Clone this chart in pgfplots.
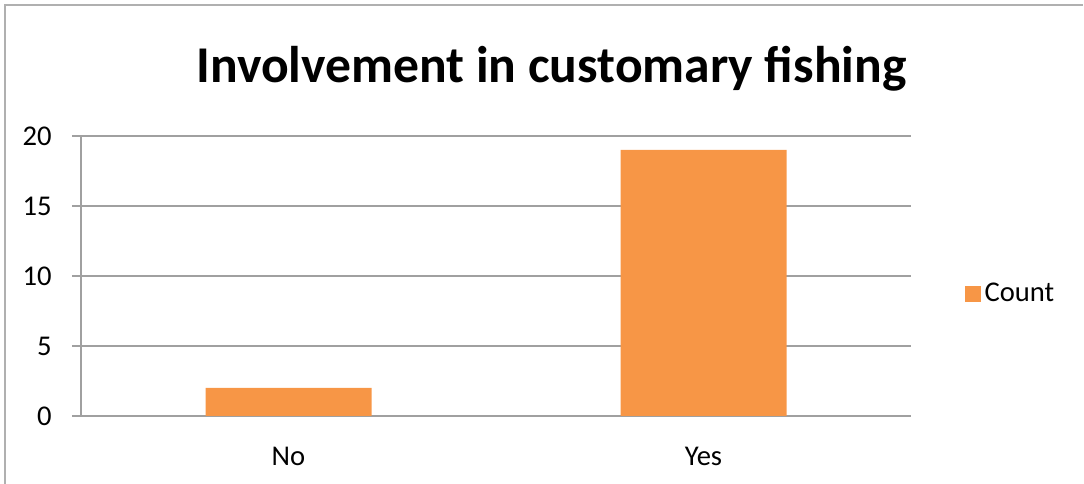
\documentclass[border=0pt]{standalone}
\usepackage{pgfplots}
\pgfplotsset{compat=1.18}
\usepackage{fontspec}
\setmainfont{Carlito}
\definecolor{barorange}{HTML}{F79646}
\definecolor{linegray}{HTML}{A0A0A0}
\definecolor{framegray}{HTML}{B0B0B0}
\begin{document}
\begin{tikzpicture}
\useasboundingbox (0,0) rectangle (542bp,242bp);
\draw[framegray, line width=0.9bp] (2.5bp,0) -- (2.5bp,239.5bp) -- (541.5bp,239.5bp);
\node[anchor=base, inner sep=0, font=\fontsize{25.8bp}{30bp}\selectfont\bfseries] at (275.75bp,200.5bp) {Involvement in customary fishing};
\begin{axis}[
  at={(40.5bp,34bp)}, anchor=south west,
  scale only axis,
  width=415bp, height=140bp,
  xmin=-0.5, xmax=1.5,
  ymin=0, ymax=20,
  ytick={0,5,10,15,20},
  xtick={0,1},
  xticklabels={No,Yes},
  minor xtick={-0.5,0.5,1.5},
  xtick style={draw=none},
  minor tick length=4.5bp,
  major tick length=4.5bp,
  tick align=outside,
  ytick style={linegray, line width=0.7bp},
  minor x tick style={linegray, line width=0.7bp},
  axis x line*=bottom,
  axis y line*=left,
  axis line style={-, linegray, line width=0.8bp},
  ymajorgrids,
  grid style={linegray, line width=0.7bp},
  /pgf/number format/assume math mode=true,
  tick label style={font=\fontsize{14.3bp}{17bp}\selectfont, inner sep=0},
  yticklabel style={xshift=-10bp},
  xticklabel style={yshift=-11bp},
  legend style={at={(rel axis cs:1.064,0.436)}, anchor=west, draw=none, fill=none,
    inner sep=0, font=\fontsize{14.3bp}{17bp}\selectfont,
    /tikz/every even column/.append style={column sep=0bp}},
  legend cell align=left,
  legend image code/.code={\fill[barorange] (0bp,-4bp) rectangle (8bp,4bp);},
]
\addplot[ybar, bar width=0.4, fill=barorange, draw=none] coordinates {(0,2) (1,19)};
\addlegendentry{Count}
\end{axis}
\end{tikzpicture}
\end{document}
